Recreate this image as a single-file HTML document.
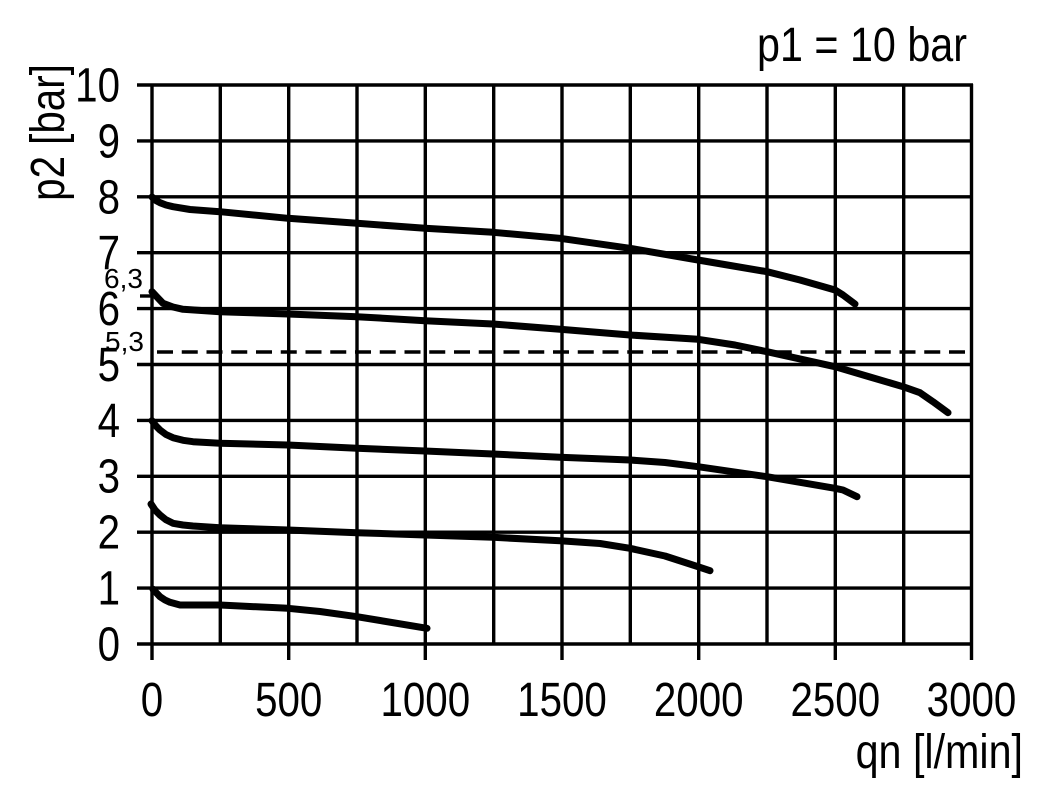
<!DOCTYPE html>
<html>
<head>
<meta charset="utf-8">
<style>
html,body{margin:0;padding:0;background:#fff;}
svg{display:block;}
text{font-family:"Liberation Sans",Arial,sans-serif;fill:#000;}
</style>
</head>
<body>
<svg width="1051" height="803" viewBox="0 0 1051 803" xmlns="http://www.w3.org/2000/svg">
<rect x="0" y="0" width="1051" height="803" fill="#fff"/>
<g stroke="#000" stroke-width="3.4" fill="none">
  <line x1="137" y1="85" x2="973" y2="85"/>
  <line x1="137" y1="140.9" x2="972" y2="140.9"/>
  <line x1="137" y1="196.8" x2="972" y2="196.8"/>
  <line x1="137" y1="252.7" x2="972" y2="252.7"/>
  <line x1="137" y1="308.6" x2="972" y2="308.6"/>
  <line x1="137" y1="364.5" x2="972" y2="364.5"/>
  <line x1="137" y1="420.4" x2="972" y2="420.4"/>
  <line x1="137" y1="476.3" x2="972" y2="476.3"/>
  <line x1="137" y1="532.2" x2="972" y2="532.2"/>
  <line x1="137" y1="588.1" x2="972" y2="588.1"/>
  <line x1="137" y1="644" x2="973" y2="644"/>
  <line x1="152" y1="84" x2="152" y2="660"/>
  <line x1="220.3" y1="84" x2="220.3" y2="644"/>
  <line x1="288.7" y1="84" x2="288.7" y2="660"/>
  <line x1="357" y1="84" x2="357" y2="644"/>
  <line x1="425.3" y1="84" x2="425.3" y2="660"/>
  <line x1="493.7" y1="84" x2="493.7" y2="644"/>
  <line x1="562" y1="84" x2="562" y2="660"/>
  <line x1="630.3" y1="84" x2="630.3" y2="644"/>
  <line x1="698.7" y1="84" x2="698.7" y2="660"/>
  <line x1="767" y1="84" x2="767" y2="644"/>
  <line x1="835.3" y1="84" x2="835.3" y2="660"/>
  <line x1="903.7" y1="84" x2="903.7" y2="644"/>
  <line x1="971.5" y1="84" x2="971.5" y2="660"/>
  <line x1="140" y1="296" x2="153" y2="296"/>
  <line x1="157" y1="352" x2="966" y2="352" stroke-dasharray="16 8.75"/>
</g>
<g stroke="#000" stroke-width="7" fill="none" stroke-linecap="round" stroke-linejoin="round">
  <polyline points="152,197 156,200.5 160,202.7 166,205 173,206.7 190,209.5 220,211.7 288,218.3 357,223.3 425,228.3 493,232.3 560,238.3 630,248.3 698,260 767,271.7 800,280 835,290 843,295 855,304"/>
  <polyline points="152,291.7 157,297 163,303.3 173,307 183,309.3 220,311.7 288,314 357,316.7 425,320.7 493,324 560,329.3 630,335 698,339.3 735,345 767,351.7 835,366.7 870,377 903,386.7 920,392.7 933,401.7 948,412.7"/>
  <polyline points="152,420.7 156,426 160,430 166,434.5 173,437.7 183,440.3 193,441.7 220,443.3 288,445 357,448.3 425,451 493,454 560,457.3 630,460 665,462.5 698,466.7 767,476.7 835,488.3 843,490 857,496.7"/>
  <polyline points="151,504 155,510 160,515 166,519.8 173,523.3 183,525 193,526 220,527.7 288,530 357,532.7 425,535 493,537.3 560,540.7 600,543.5 630,548.3 665,556 698,566.7 710,570.7"/>
  <polyline points="153,589.3 157,593.5 160,596.7 165,600 170,602.3 180,605 220,605 288,608.3 320,611.5 357,616.7 427,628.3"/>
</g>
<g font-size="48" text-anchor="end">
  <text transform="translate(120,101.5) scale(0.84,1)">10</text>
  <text transform="translate(120,157.5) scale(0.84,1)">9</text>
  <text transform="translate(120,213.5) scale(0.84,1)">8</text>
  <text transform="translate(120,269) scale(0.84,1)">7</text>
  <text transform="translate(120,325) scale(0.84,1)">6</text>
  <text transform="translate(120,381) scale(0.84,1)">5</text>
  <text transform="translate(120,437) scale(0.84,1)">4</text>
  <text transform="translate(120,492.5) scale(0.84,1)">3</text>
  <text transform="translate(120,548.5) scale(0.84,1)">2</text>
  <text transform="translate(120,604.5) scale(0.84,1)">1</text>
  <text transform="translate(120,660.5) scale(0.84,1)">0</text>
</g>
<g font-size="48" text-anchor="middle">
  <text transform="translate(152,716) scale(0.84,1)">0</text>
  <text transform="translate(288.7,716) scale(0.84,1)">500</text>
  <text transform="translate(425.3,716) scale(0.84,1)">1000</text>
  <text transform="translate(562,716) scale(0.84,1)">1500</text>
  <text transform="translate(698.7,716) scale(0.84,1)">2000</text>
  <text transform="translate(835.3,716) scale(0.84,1)">2500</text>
  <text transform="translate(971.5,716) scale(0.84,1)">3000</text>
</g>
<text x="104" y="288" font-size="28">6,3</text>
<text x="105" y="351" font-size="28">5,3</text>
<text transform="translate(967,61) scale(0.86,1)" font-size="48" text-anchor="end">p1 = 10 bar</text>
<text transform="translate(1023,768) scale(0.86,1)" font-size="48" text-anchor="end">qn [l/min]</text>
<text transform="translate(64,132.5) rotate(-90) scale(0.84,1)" font-size="48" text-anchor="middle">p2 [bar]</text>
</svg>
</body>
</html>
